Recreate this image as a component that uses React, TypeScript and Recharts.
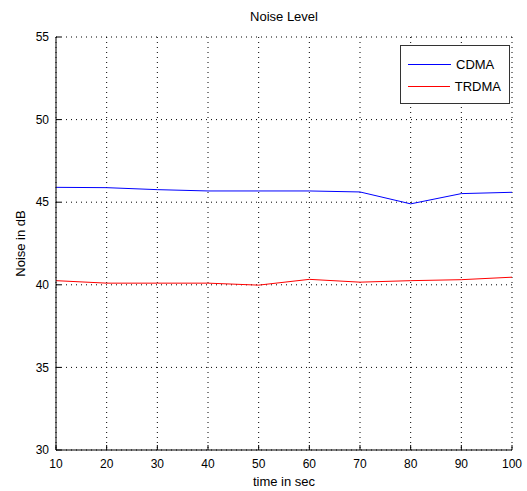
import { CartesianGrid, Legend, Line, LineChart, XAxis, YAxis } from 'recharts'

const times = [10, 20, 30, 40, 50, 60, 70, 80, 90, 100]
const cdma = [45.9, 45.88, 45.76, 45.68, 45.68, 45.68, 45.62, 44.9, 45.52, 45.6]
const trdma = [40.25, 40.1, 40.1, 40.1, 39.98, 40.33, 40.16, 40.25, 40.31, 40.46]
const xTicks = [10, 20, 30, 40, 50, 60, 70, 80, 90, 100]
const yTicks = [30, 35, 40, 45, 50, 55]
const seriesNames = ['CDMA', 'TRDMA']
const seriesColors = ['#0000ff', '#ff0000']

const FONT = '"Liberation Sans", Arial, sans-serif'

const data = times.map((t, i) => ({ t, CDMA: cdma[i], TRDMA: trdma[i] }))

function LegendBox() {
  return (
    <div
      style={{
        border: '1px solid #333',
        background: '#fff',
        padding: '7px 8px 6px 7px',
        fontFamily: FONT,
        fontSize: 13,
        color: '#000',
      }}
    >
      {seriesNames.map((name, i) => (
        <div key={name} style={{ display: 'flex', alignItems: 'center', height: 22 }}>
          <span style={{ display: 'inline-block', width: 43, borderTop: `1px solid ${seriesColors[i]}`, marginRight: 5 }} />
          <span>{name}</span>
        </div>
      ))}
    </div>
  )
}

export default function App() {
  const axisTick = { fill: '#000', fontSize: 12, fontFamily: FONT }
  return (
    <div style={{ position: 'absolute', left: 0, top: 0, width: 527, height: 491, background: '#fff' }}>
      <div
        style={{
          position: 'absolute',
          left: 56,
          width: 456,
          top: 9,
          textAlign: 'center',
          fontFamily: FONT,
          fontSize: 13,
          color: '#000',
        }}
      >
        Noise Level
      </div>
      <LineChart width={527} height={491} data={data} margin={{ top: 37, right: 15, bottom: 0, left: 0 }}>
        <CartesianGrid xAxisId="b" yAxisId="l" stroke="#000" strokeDasharray="1 4" />
        <XAxis
          xAxisId="b"
          dataKey="t"
          type="number"
          domain={[10, 100]}
          ticks={xTicks}
          height={41}
          tickSize={-5}
          tickMargin={14}
          tick={axisTick}
          stroke="#000"
          label={{ value: 'time in sec', position: 'insideBottom', offset: 5, fill: '#000', fontSize: 13, fontFamily: FONT }}
        />
        <XAxis
          xAxisId="top"
          dataKey="t"
          type="number"
          orientation="top"
          domain={[10, 100]}
          ticks={xTicks}
          height={0}
          tickSize={-5}
          tickFormatter={() => ''}
          stroke="#000"
        />
        <YAxis
          yAxisId="l"
          type="number"
          domain={[30, 55]}
          ticks={yTicks}
          width={56}
          tickSize={-5}
          tickMargin={12}
          tick={axisTick}
          stroke="#000"
          label={{
            value: 'Noise in dB',
            angle: -90,
            position: 'insideLeft',
            offset: 20,
            fill: '#000',
            fontSize: 13,
            fontFamily: FONT,
            style: { textAnchor: 'middle' },
          }}
        />
        <YAxis
          yAxisId="r"
          type="number"
          orientation="right"
          domain={[30, 55]}
          ticks={yTicks}
          width={0}
          tickSize={-5}
          tickFormatter={() => ''}
          stroke="#000"
        />
        <Legend
          layout="horizontal"
          verticalAlign="middle"
          align="center"
          wrapperStyle={{ left: 400, top: 45, width: 110 }}
          content={() => <LegendBox />}
        />
        {seriesNames.map((name, i) => (
          <Line
            key={name}
            xAxisId="b"
            yAxisId="l"
            dataKey={name}
            type="linear"
            stroke={seriesColors[i]}
            strokeWidth={1}
            dot={false}
            isAnimationActive={false}
          />
        ))}
      </LineChart>
    </div>
  )
}
